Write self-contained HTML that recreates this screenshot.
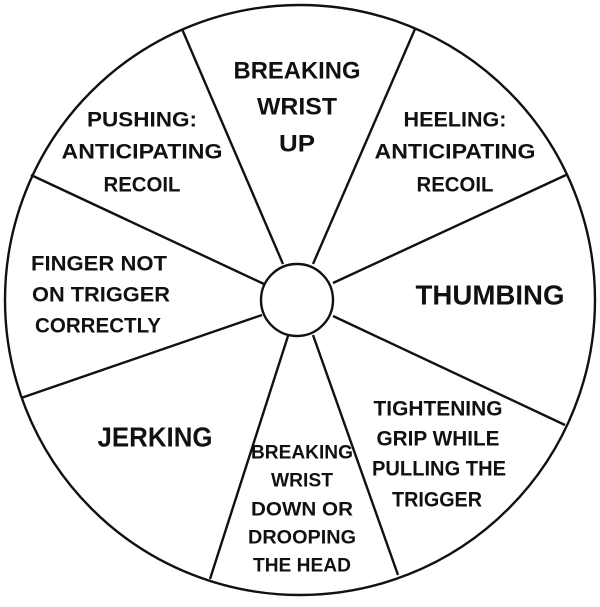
<!DOCTYPE html>
<html><head><meta charset="utf-8"><style>
html,body{margin:0;padding:0;background:#fff;width:600px;height:607px;overflow:hidden}
svg{display:block}
text{font-family:"Liberation Sans",sans-serif;font-weight:bold;fill:#111;text-anchor:middle;dominant-baseline:central}
</style></head><body>
<svg width="600" height="607" viewBox="0 0 600 607">
<g stroke="#111" stroke-width="2.4" fill="none">
<circle cx="300" cy="300" r="295"/>
<line x1="182" y1="29" x2="283" y2="264"/>
<line x1="415" y1="29" x2="313" y2="264"/>
<line x1="566" y1="175" x2="333" y2="283"/>
<line x1="565" y1="425" x2="333" y2="316"/>
<line x1="398" y1="575" x2="313" y2="335"/>
<line x1="210" y1="579" x2="288" y2="336"/>
<line x1="21" y1="398" x2="262" y2="315"/>
<line x1="31" y1="175" x2="264" y2="284"/>
<circle cx="297" cy="300" r="36" fill="#fff"/>
</g>
<g font-size="24">
<text x="297" y="71" textLength="127" lengthAdjust="spacingAndGlyphs">BREAKING</text>
<text x="297" y="107" textLength="80" lengthAdjust="spacingAndGlyphs">WRIST</text>
<text x="297" y="144" textLength="36" lengthAdjust="spacingAndGlyphs">UP</text>
</g>
<g font-size="21">
<text x="142" y="120" textLength="110" lengthAdjust="spacingAndGlyphs">PUSHING:</text>
<text x="142" y="152" textLength="161" lengthAdjust="spacingAndGlyphs">ANTICIPATING</text>
<text x="142" y="185" textLength="77" lengthAdjust="spacingAndGlyphs">RECOIL</text>
<text x="455" y="120" textLength="103" lengthAdjust="spacingAndGlyphs">HEELING:</text>
<text x="455" y="152" textLength="161" lengthAdjust="spacingAndGlyphs">ANTICIPATING</text>
<text x="455" y="185" textLength="77" lengthAdjust="spacingAndGlyphs">RECOIL</text>
<text x="99" y="264" textLength="136" lengthAdjust="spacingAndGlyphs">FINGER NOT</text>
<text x="101" y="295" textLength="138" lengthAdjust="spacingAndGlyphs">ON TRIGGER</text>
<text x="98" y="326" textLength="126" lengthAdjust="spacingAndGlyphs">CORRECTLY</text>
<text x="438" y="409" textLength="129" lengthAdjust="spacingAndGlyphs">TIGHTENING</text>
<text x="438" y="439" textLength="123" lengthAdjust="spacingAndGlyphs">GRIP WHILE</text>
<text x="439" y="469" textLength="134" lengthAdjust="spacingAndGlyphs">PULLING THE</text>
<text x="437" y="500" textLength="90" lengthAdjust="spacingAndGlyphs">TRIGGER</text>
</g>
<g font-size="28">
<text x="490" y="295" textLength="149" lengthAdjust="spacingAndGlyphs">THUMBING</text>
<text x="155" y="437" textLength="115" lengthAdjust="spacingAndGlyphs">JERKING</text>
</g>
<g font-size="19">
<text x="302" y="453" textLength="102" lengthAdjust="spacingAndGlyphs">BREAKING</text>
<text x="302" y="481" textLength="62" lengthAdjust="spacingAndGlyphs">WRIST</text>
<text x="302" y="510" textLength="102" lengthAdjust="spacingAndGlyphs">DOWN OR</text>
<text x="302" y="538" textLength="108" lengthAdjust="spacingAndGlyphs">DROOPING</text>
<text x="302" y="566" textLength="98" lengthAdjust="spacingAndGlyphs">THE HEAD</text>
</g>
</svg>
</body></html>
